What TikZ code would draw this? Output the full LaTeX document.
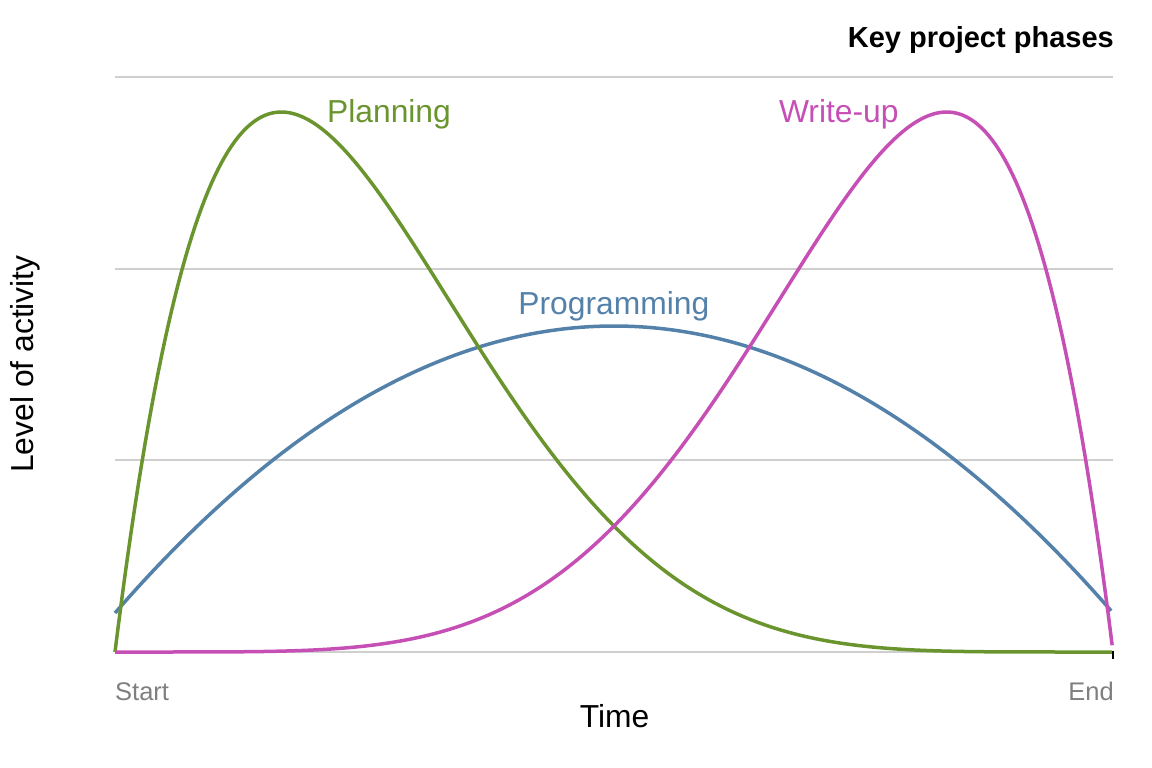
\documentclass[tikz,border=0pt]{standalone}
\usepackage{fontspec}
\setmainfont{Liberation Sans}
\definecolor{plangreen}{HTML}{6A952E}
\definecolor{writepink}{HTML}{C64FB6}
\definecolor{progblue}{HTML}{5381AA}
\definecolor{gridgray}{HTML}{CFCFCF}
\definecolor{ticklab}{HTML}{7F7F7F}
\begin{document}
\begin{tikzpicture}[x=1pt,y=-1pt,
  gridline/.style={draw=gridgray,line width=1.8pt},
  curve/.style={line width=3.5pt,line join=round},
  curvelabel/.style={anchor=base,font=\fontsize{31.8}{31.8}\selectfont,inner sep=0pt},
  axistitle/.style={anchor=base,font=\fontsize{31.8}{31.8}\selectfont,inner sep=0pt},
  ticktext/.style={font=\fontsize{25.5}{25.5}\selectfont,text=ticklab,inner sep=0pt}]
\useasboundingbox (0,0) rectangle (1152,768);
% gridlines
\foreach \yy in {77,268.67,460.33,652}{
  \draw[gridline] (115,\yy) -- (1113,\yy);
}
% curves
\draw[curve,progblue] plot[domain=0:1,samples=150,variable=\t]
  ({115+998*\t},{613-1148*\t*(1-\t)});
\draw[curve,plangreen] plot[domain=0:1,samples=300,variable=\t]
  ({115+998*\t},{652-8062*\t*(1-\t)*(1-\t)*(1-\t)*(1-\t)*(1-\t)});
\draw[curve,writepink] plot[domain=0:1,samples=300,variable=\t]
  ({115+998*\t},{652-8062*(1-\t)*\t*\t*\t*\t*\t});
% end tick
\coordinate (tickA) at (1113,651);
\coordinate (tickB) at (1113,658.5);
\draw[black,line width=1.5pt] (tickA) -- (tickB);
% labels
\node[curvelabel,text=plangreen] (planlab) at (389,122.5) {Planning};
\node[curvelabel,text=writepink] (writelab) at (838.8,122.5) {Write-up};
\node[curvelabel,text=progblue] (proglab) at (613.8,314.5) {Programming};
\node[ticktext,anchor=base west] (startlab) at (115,700) {Start};
\node[ticktext,anchor=base east] (endlab) at (1114,700) {End};
\node[axistitle] (timelab) at (614.5,727.5) {Time};
\node[axistitle,rotate=90] (levellab) at (34,364) {Level of activity};
\node[anchor=base east,inner sep=0pt,font=\fontsize{29}{29}\selectfont\bfseries] (title) at (1114,47.7) {Key project phases};
\end{tikzpicture}
\end{document}
